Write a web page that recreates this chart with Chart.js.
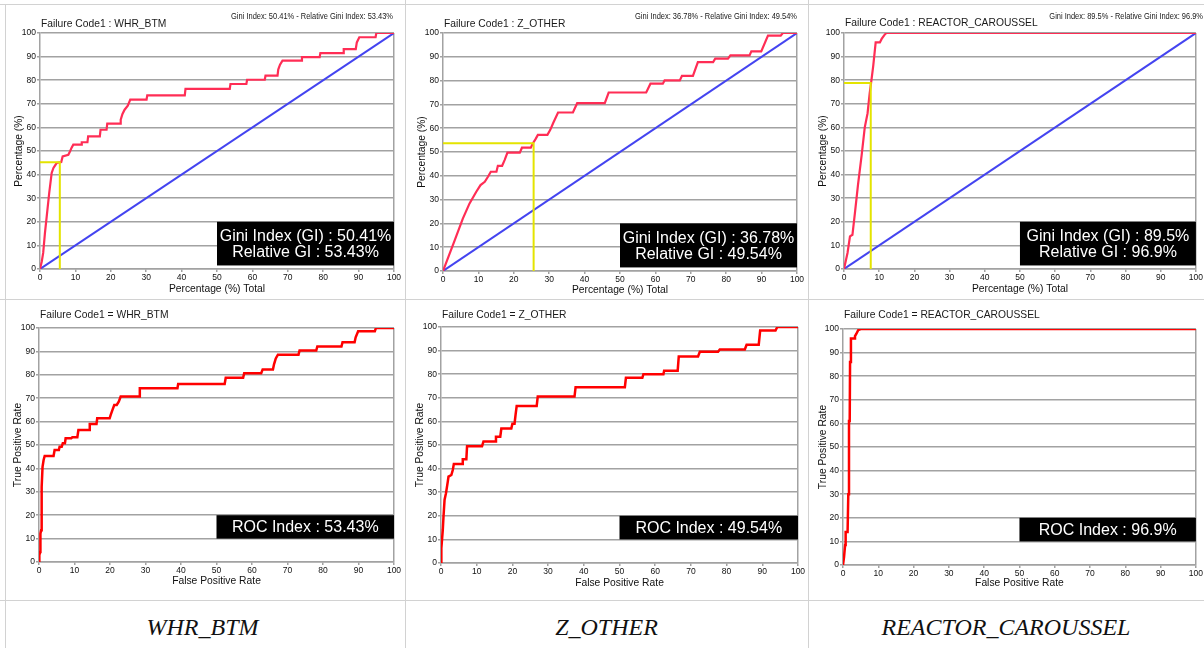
<!DOCTYPE html>
<html lang="en">
  <head>
    <meta charset="UTF-8" />
    <title>Gini and ROC curves by failure code</title>
    <script src="https://cdn.jsdelivr.net/npm/chart.js"></script>
    <style>
      body {
        margin: 0;
        background: #fff;
        font-family: "Liberation Sans", Arial, sans-serif;
      }
      #page {
        position: relative;
        width: 1204px;
        height: 648px;
        overflow: hidden;
      }
      canvas {
        position: absolute;
      }
      .rule {
        position: absolute;
        background: #d2d2d2;
      }
      .caption {
        position: absolute;
        top: 615px;
        font: italic 24px "Liberation Serif", "Times New Roman", serif;
        line-height: 24px;
        color: #111;
        text-align: center;
      }
    </style>
  </head>
  <body>
    <div id="page">
      <div class="rule" style="left:0;top:4px;width:1204px;height:1px"></div>
      <div class="rule" style="left:0;top:299px;width:1204px;height:1px"></div>
      <div class="rule" style="left:0;top:600px;width:1204px;height:1px"></div>
      <div class="rule" style="left:5px;top:4px;width:1px;height:644px"></div>
      <div class="rule" style="left:405px;top:0;width:1px;height:648px"></div>
      <div class="rule" style="left:808px;top:0;width:1px;height:648px"></div>

      <canvas id="g1" width="405" height="298" style="left:0;top:0"></canvas>
      <canvas id="g2" width="403" height="298" style="left:405px;top:0"></canvas>
      <canvas id="g3" width="396" height="298" style="left:808px;top:0"></canvas>
      <canvas id="r1" width="405" height="298" style="left:0;top:300px"></canvas>
      <canvas id="r2" width="403" height="298" style="left:405px;top:300px"></canvas>
      <canvas id="r3" width="396" height="298" style="left:808px;top:300px"></canvas>

      <div class="caption" style="left:0;width:405px">WHR_BTM</div>
      <div class="caption" style="left:405px;width:403px">Z_OTHER</div>
      <div class="caption" style="left:808px;width:396px">REACTOR_CAROUSSEL</div>
    </div>

    <script>
      // failure codes and the index values printed on each panel
      const failureCodes = ["WHR_BTM", "Z_OTHER", "REACTOR_CAROUSSEL"];
      const giniIndex = ["50.41%", "36.78%", "89.5%"];
      const relativeGini = ["53.43%", "49.54%", "96.9%"];
      const axisTicks = [0, 10, 20, 30, 40, 50, 60, 70, 80, 90, 100];

      // random model diagonal
      const diagX = [0, 100];
      const diagY = [0, 100];

      // yellow cut-off point on each Gini curve
      const cutX = [5.6, 25.6, 7.6];
      const cutY = [45.2, 53.7, 78.8];

      // Gini (cumulative gains) curves
      const giniWhrX = [0, 0.5, 0.9, 1.4, 1.9, 2.6, 3.3, 3.8, 4.7, 6.0, 6.4, 8.0, 8.5, 8.9, 9.4, 11.8, 11.8, 13.4, 13.6, 16.9, 17.1, 18.8, 19.0, 22.6, 22.8, 23.3, 23.9, 24.8, 25.5, 30.1, 30.3, 40.9, 41.1, 53.6, 53.8, 58.3, 58.5, 63.5, 63.7, 67.1, 67.3, 67.8, 68.5, 73.8, 74.0, 79.0, 79.2, 85.6, 85.8, 89.2, 89.5, 90.2, 94.8, 95.0, 100];
      const giniWhrY = [0, 3.2, 6.8, 15.3, 22.3, 32.2, 40.7, 42.8, 44.9, 45.3, 47.7, 48.4, 49.9, 51.3, 52.7, 52.7, 53.7, 53.7, 56.2, 56.2, 59.0, 59.0, 61.6, 61.6, 63.3, 65.7, 67.5, 69.2, 71.8, 71.8, 73.6, 73.6, 76.3, 76.3, 78.4, 78.4, 80.2, 80.2, 81.9, 81.9, 84.5, 86.6, 88.3, 88.3, 89.8, 89.8, 91.5, 91.5, 93.2, 93.2, 96.0, 98.2, 98.2, 100, 100];

      const giniOtherX = [0, 3.3, 5.6, 7.5, 9.4, 10.6, 11.8, 12.7, 13.5, 15.1, 15.5, 16.7, 17.4, 18.2, 21.7, 22.3, 24.8, 25.4, 26.1, 26.8, 29.5, 30.3, 31.1, 32.5, 36.7, 37.9, 45.7, 46.8, 57.4, 58.6, 62.1, 62.6, 66.9, 67.5, 70.6, 72.0, 76.3, 76.9, 80.5, 81.2, 86.6, 87.1, 89.9, 91.8, 95.4, 96.0, 100];
      const giniOtherY = [0, 12.9, 22.0, 28.4, 33.3, 36.1, 37.5, 39.6, 41.7, 41.7, 44.2, 44.2, 46.6, 49.7, 49.7, 51.8, 51.8, 53.7, 55.3, 57.2, 57.2, 59.3, 62.1, 66.6, 66.6, 70.5, 70.5, 75.0, 75.0, 78.7, 78.7, 80.1, 80.1, 82.0, 82.0, 87.8, 87.8, 89.2, 89.2, 90.6, 90.6, 92.3, 92.3, 98.9, 98.9, 100, 100];

      const giniReactorX = [0, 1.0, 1.7, 2.4, 3.1, 4.0, 5.0, 5.9, 6.7, 7.3, 7.8, 8.3, 9.0, 10.2, 10.7, 11.4, 12.0, 100];
      const giniReactorY = [0, 6.8, 13.8, 14.5, 23.7, 36.0, 48.0, 60.0, 66.0, 74.5, 80.0, 86.0, 96.0, 96.0, 97.5, 99.0, 100, 100];

      // ROC curves (false positive rate vs true positive rate)
      const rocWhrX = [0, 0.1, 0.3, 0.4, 0.6, 0.7, 0.8, 1.0, 1.3, 1.6, 4.1, 4.4, 5.6, 5.8, 6.4, 6.7, 7.3, 7.5, 9.1, 9.4, 10.8, 11.1, 14.1, 14.3, 16.2, 16.4, 19.9, 20.2, 20.7, 21.2, 21.9, 22.5, 23.0, 28.2, 28.4, 39.0, 39.2, 52.3, 52.6, 57.5, 57.8, 62.6, 63.0, 65.9, 66.2, 66.7, 67.3, 73.1, 73.4, 78.1, 78.4, 85.2, 85.5, 88.9, 89.2, 89.9, 94.6, 94.9, 100];
      const rocWhrY = [0, 2.9, 4.3, 12.1, 13.6, 26.4, 32.1, 40.7, 43.6, 45.3, 45.3, 47.9, 47.9, 49.3, 49.3, 50.7, 50.7, 52.9, 52.9, 53.3, 53.3, 56.4, 56.4, 59.0, 59.0, 61.4, 61.4, 62.9, 65.0, 67.1, 67.1, 68.6, 70.7, 70.7, 74.3, 74.3, 76.1, 76.1, 78.7, 78.7, 80.7, 80.7, 82.3, 82.3, 84.5, 87.0, 88.6, 88.6, 90.4, 90.4, 92.1, 92.1, 93.9, 93.9, 96.0, 98.6, 98.6, 100, 100];

      const rocOtherX = [0, 0.1, 0.5, 0.7, 1.0, 1.4, 1.9, 2.1, 2.9, 3.3, 3.6, 5.9, 6.1, 7.1, 7.3, 11.5, 11.9, 15.2, 15.4, 16.6, 16.9, 19.7, 20.0, 20.6, 20.9, 21.2, 26.8, 27.1, 37.4, 37.7, 51.5, 51.8, 56.4, 56.7, 62.3, 62.5, 66.3, 66.6, 72.0, 72.5, 77.6, 78.1, 85.1, 85.6, 89.0, 89.4, 93.7, 94.2, 100];
      const rocOtherY = [0, 6.3, 14.0, 19.7, 26.8, 29.6, 34.5, 36.6, 37.3, 39.4, 42.0, 42.0, 44.0, 44.0, 49.5, 49.5, 51.5, 51.5, 53.5, 53.5, 57.0, 57.0, 59.0, 59.0, 63.0, 66.5, 66.5, 70.5, 70.5, 74.5, 74.5, 78.5, 78.5, 80.0, 80.0, 81.5, 81.5, 87.5, 87.5, 89.5, 89.5, 90.5, 90.5, 92.5, 92.5, 98.5, 98.5, 100, 100];

      const rocReactorX = [0, 0.3, 0.6, 0.75, 1.3, 1.5, 1.7, 1.9, 2.0, 2.25, 3.2, 3.4, 3.8, 4.3, 5.0, 100];
      const rocReactorY = [0, 3.5, 8.5, 14.0, 14.0, 30.0, 61.0, 61.0, 86.0, 96.0, 96.0, 97.0, 98.0, 99.5, 100, 100];

      const FONT = '"Liberation Sans", Arial, sans-serif';
      const GRID = "#a2a2a2";
      Chart.defaults.font.family = FONT;
      Chart.defaults.color = "#111";

      const pts = (xs, ys) => xs.map((v, i) => ({ x: v, y: ys[i] }));

      // titles, index note and the black index box
      function panelPlugin(p) {
        return {
          id: "panel",
          afterDatasetsDraw(chart) {
            const { ctx, chartArea, scales } = chart;
            const x = scales.x;
            const y = scales.y;
            ctx.save();
            ctx.fillStyle = "#1a1a1a";
            ctx.textBaseline = "middle";
            ctx.textAlign = "left";
            ctx.font = "10.3px " + FONT;
            ctx.fillText(p.title, chartArea.left + 1, p.titleY);

            if (p.note) {
              ctx.save();
              ctx.translate(p.noteRight, 17);
              ctx.scale(0.83, 1);
              ctx.font = "9px " + FONT;
              ctx.textAlign = "right";
              ctx.fillText(p.note, 0, 0);
              ctx.restore();
            }

            const l = x.getPixelForValue(p.box[0]);
            const r = x.getPixelForValue(p.box[1]);
            const b = y.getPixelForValue(p.box[2]);
            const t = y.getPixelForValue(p.box[3]);
            ctx.fillStyle = "#000";
            ctx.fillRect(l, t, r - l, b - t);
            ctx.fillStyle = "#fff";
            ctx.font = "16px " + FONT;
            ctx.textAlign = "center";
            const n = p.lines.length;
            p.lines.forEach((s, i) => {
              ctx.fillText(s, (l + r) / 2, (t + b) / 2 + (i - (n - 1) / 2) * 16 + 1);
            });
            ctx.restore();
          },
        };
      }

      function axes(xTitle, yTitle, yW, xH) {
        return {
          x: {
            type: "linear",
            min: 0,
            max: 100,
            afterBuildTicks: (s) => {
              s.ticks = axisTicks.map((v) => ({ value: v }));
            },
            ticks: { font: { size: 8.5 }, padding: 1, maxRotation: 0, autoSkip: false },
            grid: {
              color: (c) => (c.tick && c.tick.value === 100 ? GRID : "rgba(0,0,0,0)"),
              tickColor: GRID,
              tickLength: 3,
              lineWidth: 1.5,
            },
            border: { color: GRID, width: 1.5 },
            title: { display: true, text: xTitle, font: { size: 10.3 }, padding: 0 },
            afterFit: (s) => {
              s.height = xH;
            },
          },
          y: {
            type: "linear",
            min: 0,
            max: 100,
            afterBuildTicks: (s) => {
              s.ticks = axisTicks.map((v) => ({ value: v }));
            },
            ticks: { font: { size: 8.5 }, padding: 1, autoSkip: false },
            grid: { color: GRID, tickColor: GRID, tickLength: 3, lineWidth: 1.5 },
            border: { color: GRID, width: 1.5 },
            title: { display: true, text: yTitle, font: { size: 10.3 }, padding: 0 },
            afterFit: (s) => {
              s.width = yW;
            },
          },
        };
      }

      function line(data, color, width) {
        return {
          data: data,
          borderColor: color,
          borderWidth: width,
          pointRadius: 0,
          tension: 0,
          fill: false,
        };
      }

      function giniChart(id, k, xs, ys, geo) {
        const cut = [
          { x: 0, y: cutY[k] },
          { x: cutX[k], y: cutY[k] },
          { x: cutX[k], y: 0 },
        ];
        new Chart(document.getElementById(id), {
          type: "line",
          data: {
            datasets: [
              line(cut, "#e4e400", 2),
              line(pts(xs, ys), "#ff2d55", 2.2),
              line(pts(diagX, diagY), "#4444f0", 2),
            ],
          },
          options: {
            responsive: false,
            animation: false,
            layout: { padding: geo.pad },
            plugins: { legend: { display: false }, tooltip: { enabled: false } },
            scales: axes("Percentage (%) Total", "Percentage (%)", geo.yW, geo.xH),
          },
          plugins: [
            panelPlugin({
              title: "Failure Code1 : " + failureCodes[k],
              titleY: geo.titleY,
              note: "Gini Index: " + giniIndex[k] + " - Relative Gini Index: " + relativeGini[k],
              noteRight: geo.noteRight,
              box: [50, 100, 1.5, 20],
              lines: ["Gini Index (GI) : " + giniIndex[k], "Relative GI : " + relativeGini[k]],
            }),
          ],
        });
      }

      function rocChart(id, k, xs, ys, geo) {
        new Chart(document.getElementById(id), {
          type: "line",
          data: { datasets: [line(pts(xs, ys), "#ff0000", 2.5)] },
          options: {
            responsive: false,
            animation: false,
            layout: { padding: geo.pad },
            plugins: { legend: { display: false }, tooltip: { enabled: false } },
            scales: axes("False Positive Rate", "True Positive Rate", geo.yW, geo.xH),
          },
          plugins: [
            panelPlugin({
              title: "Failure Code1 = " + failureCodes[k],
              titleY: geo.titleY,
              box: [50, 100, 10, 20],
              lines: ["ROC Index : " + relativeGini[k]],
            }),
          ],
        });
      }

      giniChart("g1", 0, giniWhrX, giniWhrY, {
        pad: { left: 13, top: 33, right: 11, bottom: 3 }, yW: 27, xH: 26, titleY: 24, noteRight: 393,
      });
      giniChart("g2", 1, giniOtherX, giniOtherY, {
        pad: { left: 11, top: 33, right: 11, bottom: 2 }, yW: 27, xH: 25, titleY: 24, noteRight: 392,
      });
      giniChart("g3", 2, giniReactorX, giniReactorY, {
        pad: { left: 9, top: 33, right: 6, bottom: 3 }, yW: 27, xH: 26, titleY: 23, noteRight: 395,
      });
      rocChart("r1", 0, rocWhrX, rocWhrY, {
        pad: { left: 12, top: 28, right: 11, bottom: 11 }, yW: 27, xH: 25, titleY: 15,
      });
      rocChart("r2", 1, rocOtherX, rocOtherY, {
        pad: { left: 9, top: 27, right: 10, bottom: 9 }, yW: 27, xH: 26, titleY: 15,
      });
      rocChart("r3", 2, rocReactorX, rocReactorY, {
        pad: { left: 9, top: 29, right: 6, bottom: 9 }, yW: 26, xH: 24, titleY: 15,
      });
    </script>
  </body>
</html>
